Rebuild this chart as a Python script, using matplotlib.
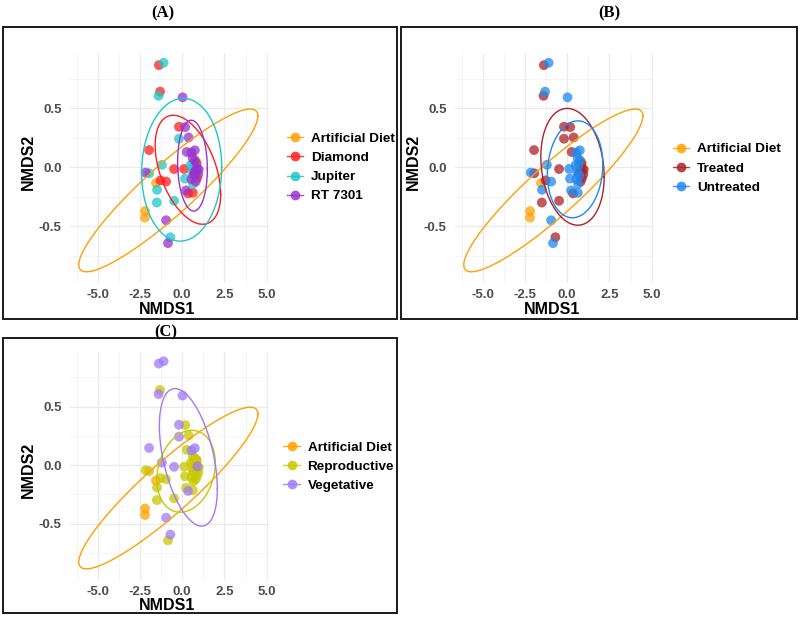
import numpy as np
import matplotlib
matplotlib.use("Agg")
import matplotlib.pyplot as plt
from matplotlib.lines import Line2D
from matplotlib.patches import Rectangle
from matplotlib.font_manager import FontProperties

# ---------------- data ----------------
nmds1 = [-1.38, -1.10, -1.31, -1.40, 0.02, -1.96, -2.16, -1.95, -1.20, -0.19,
         0.18, -0.19, 0.38, 0.27, 0.55, 0.75, -0.48, 0.12, -1.28, -0.95,
         -1.49, 0.17, -1.50, -0.48, 0.23, 0.35, 0.63, -0.95, -0.70, -0.84,
         0.62, 0.75, 0.68, 0.85, 0.90, 0.78, 0.60, 0.95, 0.72, 0.88,
         0.55, 0.80, 0.65, 0.98, 0.70, 0.50,
         -1.55, -2.20, -2.20, 0.86]
nmds2 = [0.867, 0.887, 0.642, 0.607, 0.594, 0.147, -0.044, -0.050, 0.022, 0.345,
         0.342, 0.243, 0.254, 0.131, 0.126, 0.145, -0.014, -0.013, -0.110, -0.120,
         -0.190, -0.095, -0.298, -0.283, -0.195, -0.220, -0.215, -0.448, -0.592, -0.642,
         0.080, 0.060, 0.020, 0.030, -0.010, -0.030, -0.040, -0.060, -0.070, -0.090,
         -0.100, -0.120, -0.140, -0.020, -0.050, 0.020,
         -0.132, -0.370, -0.425, 0.045]
D, J, R, AD = "Diamond", "Jupiter", "RT 7301", "Artificial Diet"
variety = [D, J, D, J, R, D, R, J, J, D,
           R, J, R, R, R, R, D, D, D, D,
           J, J, J, J, R, D, D, R, J, R,
           R, R, J, R, R, R, J, R, R, D,
           R, R, J, R, R, J,
           AD, AD, AD, AD]
T, U = "Treated", "Untreated"
treatment = [T, U, U, T, U, T, U, T, U, T,
             T, T, T, T, U, U, T, U, T, U,
             U, U, T, T, U, T, U, U, T, U,
             U, U, U, T, T, T, U, T, U, T,
             U, T, U, T, T, U,
             AD, AD, AD, AD]
Rp, Vg = "Reproductive", "Vegetative"
stage = [Vg, Vg, Rp, Vg, Vg, Vg, Rp, Rp, Vg, Vg,
         Rp, Vg, Rp, Rp, Vg, Vg, Vg, Rp, Rp, Rp,
         Rp, Rp, Rp, Rp, Rp, Vg, Rp, Vg, Vg, Rp,
         Rp, Rp, Rp, Rp, Vg, Rp, Rp, Rp, Rp, Rp,
         Rp, Rp, Rp, Rp, Rp, Rp,
         AD, AD, AD, AD]

# 95% ellipse summaries per group: centre, half-range in x / y, correlation
groups_A = [AD, D, J, R]
ell_cx_A = [-0.82, 0.34, -0.03, 0.61]
ell_cy_A = [-0.195, -0.02, -0.02, 0.015]
ell_sx_A = [5.30, 1.94, 2.37, 0.88]
ell_sy_A = [0.69, 0.462, 0.605, 0.385]
ell_r_A = [0.915, -0.45, 0.04, -0.08]

groups_B = [AD, T, U]
ell_cx_B = [-0.82, 0.315, 0.47]
ell_cy_B = [-0.195, 0.005, -0.016]
ell_sx_B = [5.30, 1.875, 1.64]
ell_sy_B = [0.69, 0.495, 0.411]
ell_r_B = [0.915, -0.17, 0.10]

groups_C = [AD, Rp, Vg]
ell_cx_C = [-0.82, 0.23, 0.365]
ell_cy_C = [-0.195, -0.052, 0.067]
ell_sx_C = [5.30, 1.73, 1.715]
ell_sy_C = [0.69, 0.35, 0.587]
ell_r_C = [0.915, 0.20, -0.46]

xticks = [-5.0, -2.5, 0.0, 2.5, 5.0]
xtick_labels = ["-5.0", "-2.5", "0.0", "2.5", "5.0"]
yticks = [-0.5, 0.0, 0.5]
ytick_labels = ["-0.5", "0.0", "0.5"]

# ---------------- styles ----------------
colors_A = {AD: "#FFA000", D: "#FF1E1E", J: "#1EC8C8", R: "#9932CC"}
colors_B = {AD: "#FFA000", T: "#AE2128", U: "#1E88EE"}
colors_C = {AD: "#FFA000", Rp: "#C8C800", Vg: "#9F7AF5"}

W, H = 800, 618
fig = plt.figure(figsize=(8, 6.18), dpi=100)

def fx(px):
    return px / W

def fy(py):
    return 1 - py / H

tick_font = FontProperties(family="Liberation Sans", weight="bold", size=9.5)
leg_font = FontProperties(family="Liberation Sans", weight="bold", size=9.7)

def panel(rect, labels, groups, colors, cx, cy, sx, sy, rr, ylim, leg_xy):
    x0, y0, x1, y1 = rect
    ax = fig.add_axes([fx(x0), fy(y1), (x1 - x0) / W, (y1 - y0) / H])
    ax.set_xlim(-6.64, 5.08)
    ax.set_ylim(*ylim)
    for s in ax.spines.values():
        s.set_visible(False)
    ax.set_xticks(xticks)
    ax.set_xticklabels(xtick_labels)
    ax.set_yticks(yticks)
    ax.set_yticklabels(ytick_labels)
    ax.set_xticks([-6.25, -3.75, -1.25, 1.25, 3.75], minor=True)
    ax.set_yticks([-0.75, -0.25, 0.25, 0.75], minor=True)
    ax.tick_params(which="both", length=0)
    ax.tick_params(axis="x", pad=4)
    ax.tick_params(axis="y", pad=6)
    for lab in ax.get_xticklabels() + ax.get_yticklabels():
        lab.set_fontproperties(tick_font)
        lab.set_color("#4D4D4D")
    ax.grid(True, which="major", color="#EBEBEB", lw=1.0, zorder=0)
    ax.grid(True, which="minor", color="#F3F3F3", lw=0.6, zorder=0)
    ax.set_axisbelow(True)

    xs = np.array(nmds1)
    ys = np.array(nmds2)
    lab = np.array(labels)
    for g in groups:
        m = lab == g
        ax.scatter(xs[m], ys[m], s=50, color=colors[g], alpha=0.75,
                   edgecolors="none", zorder=3)
    t = np.linspace(0, 2 * np.pi, 300)
    for i, g in enumerate(groups):
        ex = cx[i] + sx[i] * np.cos(t)
        ey = cy[i] + sy[i] * (rr[i] * np.cos(t) + np.sqrt(1 - rr[i] ** 2) * np.sin(t))
        ax.plot(ex, ey, color=colors[g], lw=1.0, zorder=4)

    handles = [Line2D([0], [0], color=colors[g], lw=1.0, marker="o",
                      markersize=7, markerfacecolor=colors[g],
                      markeredgecolor="none", alpha=0.85) for g in groups]
    ax.legend(handles, groups, loc="center left",
              bbox_to_anchor=(fx(leg_xy[0]), fy(leg_xy[1])),
              bbox_transform=fig.transFigure, frameon=False, borderpad=0,
              borderaxespad=0, handlelength=1.25, handletextpad=0.55,
              labelspacing=0.5, prop=leg_font)
    # axis titles
    fig.text(fx((x0 + x1) / 2 - 2), fy(y1 + 26), "NMDS1", ha="center",
             va="center", fontsize=11.5, fontweight="bold", family="Liberation Sans")
    return ax

panel((70, 53, 268, 283), variety, groups_A, colors_A,
      ell_cx_A, ell_cy_A, ell_sx_A, ell_sy_A, ell_r_A, (-0.98, 0.97), (286.5, 167.5))
panel((455, 53, 653, 283), treatment, groups_B, colors_B,
      ell_cx_B, ell_cy_B, ell_sx_B, ell_sy_B, ell_r_B, (-0.98, 0.97), (672.5, 168.3))
panel((70, 352, 268, 580), stage, groups_C, colors_C,
      ell_cx_C, ell_cy_C, ell_sx_C, ell_sy_C, ell_r_C, (-0.98, 0.966), (283.3, 466.5))

# y axis titles
for (xp, yp) in [(28, 162), (413, 162), (28, 470)]:
    fig.text(fx(xp), fy(yp), "NMDS2", rotation=90, ha="center", va="center",
             fontsize=11.5, fontweight="bold", family="Liberation Sans")

# panel titles
for (xp, yp, s) in [(163, 13, "(A)"), (609.5, 13, "(B)"), (165.5, 332.5, "(C)")]:
    fig.text(fx(xp), fy(yp), s, ha="center", va="center", fontsize=12,
             fontweight="bold", family="Liberation Serif")

# panel frames
for (x0, y0, x1, y1) in [(3, 27, 397, 318.5), (401.5, 27, 797, 318.5), (3, 338, 397, 612.5)]:
    fig.add_artist(Rectangle((fx(x0), fy(y1)), (x1 - x0) / W, (y1 - y0) / H,
                             transform=fig.transFigure, fill=False,
                             lw=1.4, ec="#1A1A1A"))

fig.savefig("out.png", dpi=100)
